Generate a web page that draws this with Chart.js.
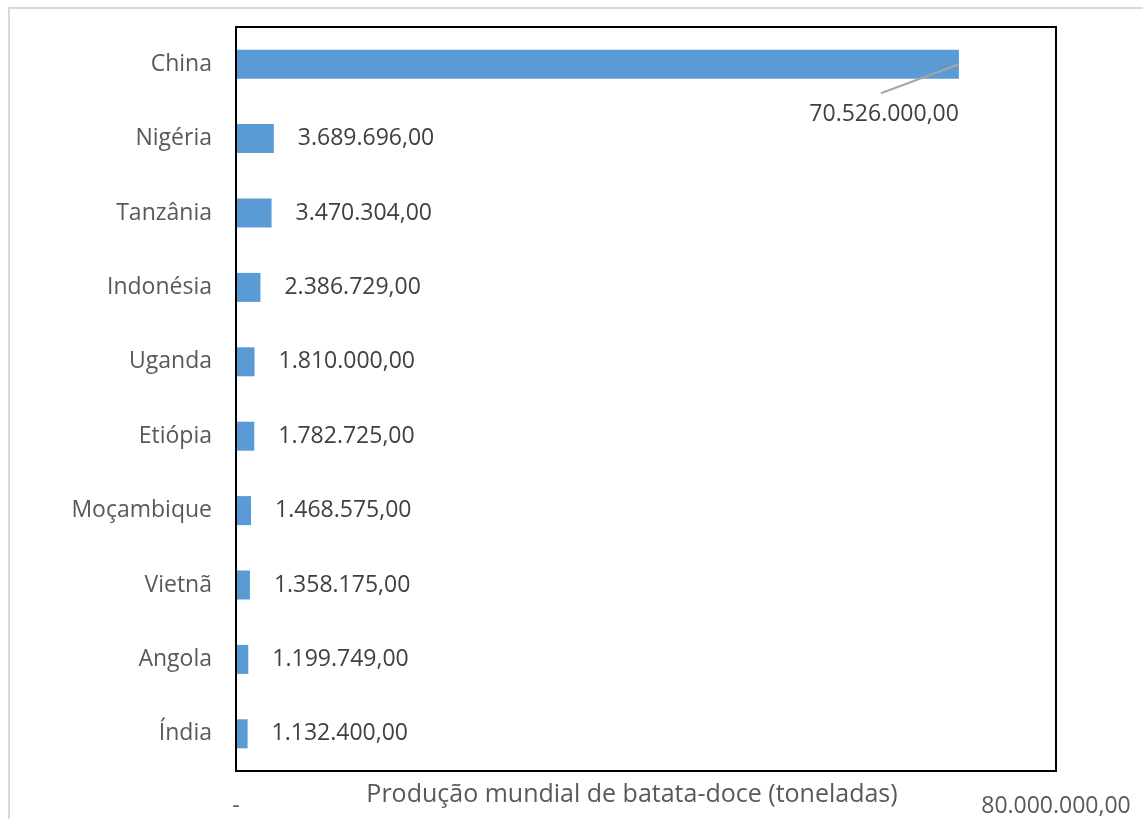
<!DOCTYPE html>
<html>
<head>
<meta charset="utf-8">
<script src="https://cdn.jsdelivr.net/npm/chart.js@4.4.0/dist/chart.umd.min.js"></script>
<style>
  body { margin: 0; background: #fff; overflow: hidden; }
  #frame { position: absolute; left: 8px; top: 7px; width: 1300px; height: 1000px; border: 2px solid #d9d9d9; }
  #wrap { position: absolute; left: 0; top: 0; width: 1143px; height: 819px; }
</style>
</head>
<body>
<div id="frame"></div>
<div id="wrap"><canvas id="chart" width="1143" height="819"></canvas></div>
<script>
const countries = ['China', 'Nigéria', 'Tanzânia', 'Indonésia', 'Uganda', 'Etiópia', 'Moçambique', 'Vietnã', 'Angola', 'Índia'];
const production = [70526000, 3689696, 3470304, 2386729, 1810000, 1782725, 1468575, 1358175, 1199749, 1132400];
const axisMin = 0;
const axisMax = 80000000;
const axisTitle = 'Produção mundial de batata-doce (toneladas)';

const FONT = '"Open Sans", "Noto Sans", sans-serif';

// 70526000 -> "70.526.000,00"
function formatBR(v){
    const parts = v.toFixed(2).split('.');
    const intPart = parts[0].replace(/\B(?=(\d{3})+(?!\d))/g, '.');
    return intPart + ',' + parts[1];
}

// black frame round the plot area
const plotBorder = {
    id: 'plotBorder',
    afterDatasetsDraw(chart){
        const {ctx, chartArea: a} = chart;
        ctx.save();
        ctx.strokeStyle = '#000';
        ctx.lineWidth = 2;
        ctx.strokeRect(a.left, a.top, a.right - a.left, a.bottom - a.top);
        ctx.restore();
    }
};

// value labels; the first (largest) bar gets its label below with a leader line
const valueLabels = {
    id: 'valueLabels',
    afterDatasetsDraw(chart){
        const {ctx} = chart;
        const meta = chart.getDatasetMeta(0);
        ctx.save();
        ctx.font = '23px ' + FONT;
        ctx.fillStyle = '#404040';
        ctx.textBaseline = 'middle';
        meta.data.forEach((bar, i) => {
            const text = formatBR(production[i]);
            if(i === 0){
                ctx.strokeStyle = '#a6a6a6';
                ctx.lineWidth = 2;
                ctx.beginPath();
                ctx.moveTo(bar.x, bar.y);
                ctx.lineTo(bar.x - 78, bar.y + 29);
                ctx.stroke();
                ctx.textAlign = 'right';
                ctx.fillText(text, bar.x, bar.y + 50);
            } else {
                ctx.textAlign = 'left';
                ctx.fillText(text, bar.x + 24, bar.y);
            }
        });
        ctx.restore();
    }
};

// axis title sits level with the tick labels, just left of centre
const xTitle = {
    id: 'xTitle',
    afterDraw(chart){
        const {ctx, chartArea: a} = chart;
        ctx.save();
        ctx.font = '25px ' + FONT;
        ctx.fillStyle = '#595959';
        ctx.textAlign = 'center';
        ctx.textBaseline = 'middle';
        ctx.fillText(axisTitle, (a.left + a.right) / 2 - 14, a.bottom + 24);
        ctx.restore();
    }
};

new Chart(document.getElementById('chart'), {
    type: 'bar',
    data: {
        labels: countries,
        datasets: [{
            data: production,
            backgroundColor: '#5b9bd5',
            borderWidth: 0,
            categoryPercentage: 1,
            barPercentage: 0.39
        }]
    },
    options: {
        indexAxis: 'y',
        responsive: false,
        animation: false,
        layout: { padding: { top: 27, right: 87, left: 0, bottom: 0 } },
        plugins: { legend: { display: false }, tooltip: { enabled: false } },
        scales: {
            x: {
                min: axisMin,
                max: axisMax,
                grid: { display: false, drawTicks: false },
                border: { display: false },
                ticks: {
                    stepSize: axisMax,
                    maxRotation: 0,
                    padding: 22,
                    color: '#595959',
                    font: { size: 23, family: FONT },
                    callback: v => v === 0 ? '-' : formatBR(v)
                },
                afterFit: s => {
                    s.height = 48;
                    s.paddingLeft = 0;
                    s.paddingRight = 0;
                }
            },
            y: {
                grid: { display: false, drawTicks: false },
                border: { display: false },
                ticks: {
                    padding: 24,
                    color: '#595959',
                    font: { size: 23, family: FONT }
                },
                afterFit: s => {
                    s.width = 236;
                    s.paddingTop = 0;
                    s.paddingBottom = 0;
                }
            }
        }
    },
    plugins: [plotBorder, valueLabels, xTitle]
});
</script>
</body>
</html>
